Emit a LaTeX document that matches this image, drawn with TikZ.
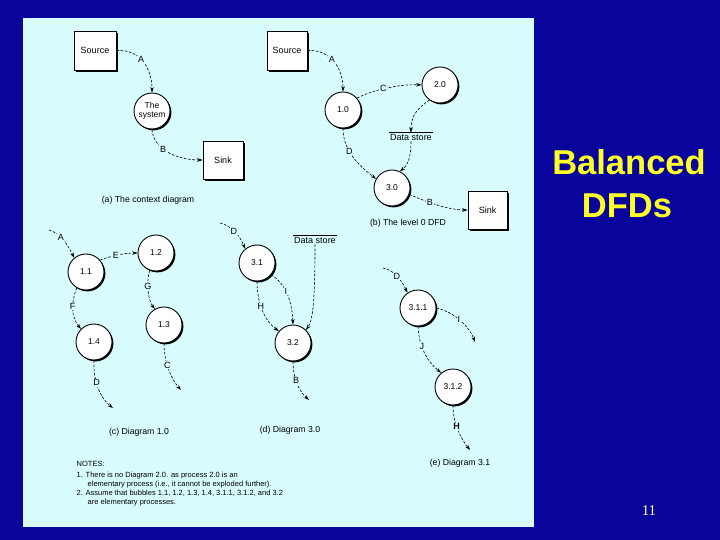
\documentclass[tikz,border=0pt]{standalone}
\usepackage{fontspec}
\setmainfont{Liberation Sans}
\newfontfamily\serifnum{Liberation Serif}
\usetikzlibrary{arrows.meta,shadows}
\definecolor{bgblue}{RGB}{8,4,156}
\definecolor{panel}{RGB}{216,252,252}
\definecolor{ttl}{RGB}{255,255,40}
\definecolor{pgnum}{RGB}{255,255,190}
\begin{document}
\begin{tikzpicture}[x=1pt,y=-1pt,
  bubble/.style={circle,draw,fill=white,line width=0.9pt,minimum size=36pt,inner sep=0pt,
    font=\fontsize{8.5}{9.5}\selectfont,align=center,
    drop shadow={shadow xshift=1.4pt,shadow yshift=-1.4pt,opacity=1,fill=black}},
  extbox/.style={rectangle,draw,fill=white,line width=0.8pt,inner sep=0pt,
    font=\fontsize{9}{10}\selectfont,
    drop shadow={shadow xshift=2pt,shadow yshift=-2pt,opacity=1,fill=black}},
  flow/.style={draw,line width=0.6pt,dash pattern=on 2.6pt off 1.6pt,
    -{Stealth[length=5.5pt,width=3.6pt]}},
  lbl/.style={fill=panel,inner sep=0.8pt,font=\fontsize{9}{9}\selectfont},
  storetxt/.style={inner sep=1pt,font=\fontsize{9}{10}\selectfont},
  storeline/.style={line width=0.7pt},
  captxt/.style={inner sep=0pt,font=\fontsize{8.7}{10}\selectfont},
  ttltxt/.style={text=ttl,font=\fontsize{34.5}{40}\selectfont\bfseries}
]
\useasboundingbox (0,0) rectangle (720,540);
\fill[bgblue] (0,0) rectangle (720,540);
\fill[panel] (23,18) rectangle (534,527);

% ---------- (a) context diagram
\node[extbox,minimum width=42pt,minimum height=39pt] (srcA) at (95,50.5) {Source};
\node[bubble] (sysA) at (152,111) {The\\system};
\node[extbox,minimum width=40pt,minimum height=38pt] (sinkA) at (223,160) {Sink};
\draw[flow] (srcA.east) .. controls (140,49) and (152,68) .. node[lbl,pos=0.45]{A} (sysA.north);
\draw[flow] (sysA.south) .. controls (153,148) and (175,160) .. node[lbl,pos=0.42]{B} (sinkA.west);
\node[captxt] (capA) at (148,200) {(a) The context diagram};

% ---------- (b) level 0
\node[extbox,minimum width=40pt,minimum height=39pt] (srcB) at (287,50.5) {Source};
\node[bubble] (p10) at (343,110) {1.0};
\node[bubble] (p20) at (440,85) {2.0};
\node[storetxt] (ds1) at (411,137) {Data store};
\draw[storeline] (ds1.north west) -- (ds1.north east);
\node[bubble] (p30) at (392,188) {3.0};
\node[extbox,minimum width=39pt,minimum height=38pt] (sinkB) at (487.5,210) {Sink};
\draw[flow] (srcB.east) .. controls (330,49) and (343,68) .. node[lbl,pos=0.45]{A} (p10.north);
\draw[flow] (p10.40) .. controls (372,90) and (400,84) .. node[lbl,pos=0.45]{C} (p20.west);
\draw[flow] (p20.235) .. controls (418,108) and (411,115) .. (ds1.north);
\draw[flow] (ds1.south) .. controls (411,157) and (408,165) .. (p30.65);
\draw[flow] (p10.south) .. controls (343,150) and (358,165) .. node[lbl,pos=0.4]{D} (p30.150);
\draw[flow] (p30.-20) .. controls (428,203) and (450,210) .. node[lbl,pos=0.35]{B} (sinkB.west);
\node[captxt] (capB) at (408,223) {(b) The level 0 DFD};

% ---------- (c) diagram 1.0
\coordinate (inA) at (49,230);
\node[bubble] (p11) at (86,272) {1.1};
\node[bubble] (p12) at (156,253) {1.2};
\node[bubble] (p13) at (164,325) {1.3};
\node[bubble] (p14) at (94,342) {1.4};
\coordinate (outD) at (113,408);
\coordinate (outC) at (181,390);
\draw[flow] (inA) .. controls (60,233) and (68,245) .. node[lbl,pos=0.4]{A} (p11.130);
\draw[flow] (p11.40) .. controls (110,256) and (125,253) .. node[lbl,pos=0.45]{E} (p12.west);
\draw[flow] (p12.250) .. controls (146,283) and (148,300) .. node[lbl,pos=0.4]{G} (p13.120);
\draw[flow] (p11.240) .. controls (70,305) and (72,318) .. node[lbl,pos=0.4]{F} (p14.135);
\draw[flow] (p14.south) .. controls (93,380) and (100,398) .. node[lbl,pos=0.4]{D} (outD);
\draw[flow] (p13.south) .. controls (164,363) and (172,380) .. node[lbl,pos=0.4]{C} (outC);
\node[captxt] (capC) at (139,432) {(c) Diagram 1.0};

% ---------- (d) diagram 3.0
\coordinate (inD) at (220,223);
\node[bubble] (p31) at (257,263) {3.1};
\node[storetxt] (ds2) at (315,240) {Data store};
\draw[storeline] (ds2.north west) -- (ds2.north east);
\node[bubble] (p32) at (293,343) {3.2};
\coordinate (outB) at (309,400);
\draw[flow] (inD) .. controls (232,226) and (240,236) .. node[lbl,pos=0.45]{D} (p31.130);
\draw[flow] (ds2.south) .. controls (315,300) and (313,320) .. (p32.45);
\draw[flow] (p31.-40) .. controls (285,283) and (292,300) .. node[lbl,pos=0.45]{I} (p32.north);
\draw[flow] (p31.south) .. controls (257,305) and (266,322) .. node[lbl,pos=0.4]{H} (p32.140);
\draw[flow] (p32.south) .. controls (293,380) and (300,392) .. node[lbl,pos=0.4]{B} (outB);
\node[captxt] (capD) at (290,430) {(d) Diagram 3.0};

% ---------- (e) diagram 3.1
\coordinate (inD2) at (383,268);
\node[bubble] (p311) at (418,308) {3.1.1};
\node[bubble] (p312) at (453,387) {3.1.2};
\coordinate (outI) at (475,342);
\coordinate (outH) at (470,450);
\draw[flow] (inD2) .. controls (395,270) and (403,283) .. node[lbl,pos=0.45]{D} (p311.125);
\draw[flow] (p311.east) .. controls (455,312) and (470,328) .. node[lbl,pos=0.45]{I} (outI);
\draw[flow] (p311.south) .. controls (419,348) and (428,362) .. node[lbl,pos=0.35]{J} (p312.130);
\draw[flow] (p312.south) .. controls (453,425) and (462,440) .. node[lbl,pos=0.4,font=\fontsize{9}{9}\selectfont\bfseries]{H} (outH);
\node[captxt] (capE) at (460,463) {(e) Diagram 3.1};

% ---------- notes
\node[anchor=north west,inner sep=0pt,align=left,font=\fontsize{7.5}{9}\selectfont] (notes) at (76.5,461.5)
 {NOTES:\\[2pt]
  1. There is no Diagram 2.0. as process 2.0 is an\\
  \hspace*{11pt}elementary process (i.e., it cannot be exploded further).\\
  2. Assume that bubbles 1.1, 1.2, 1.3, 1.4, 3.1.1, 3.1.2, and 3.2\\
  \hspace*{11pt}are elementary processes.};

% ---------- title and page number
\node[ttltxt] (t1) at (629,162) {Balanced};
\node[ttltxt] (t2) at (627,206) {DFDs};
\node[text=pgnum,font=\serifnum\fontsize{15}{18}\selectfont] (pg) at (649,511) {11};
\end{tikzpicture}
\end{document}
